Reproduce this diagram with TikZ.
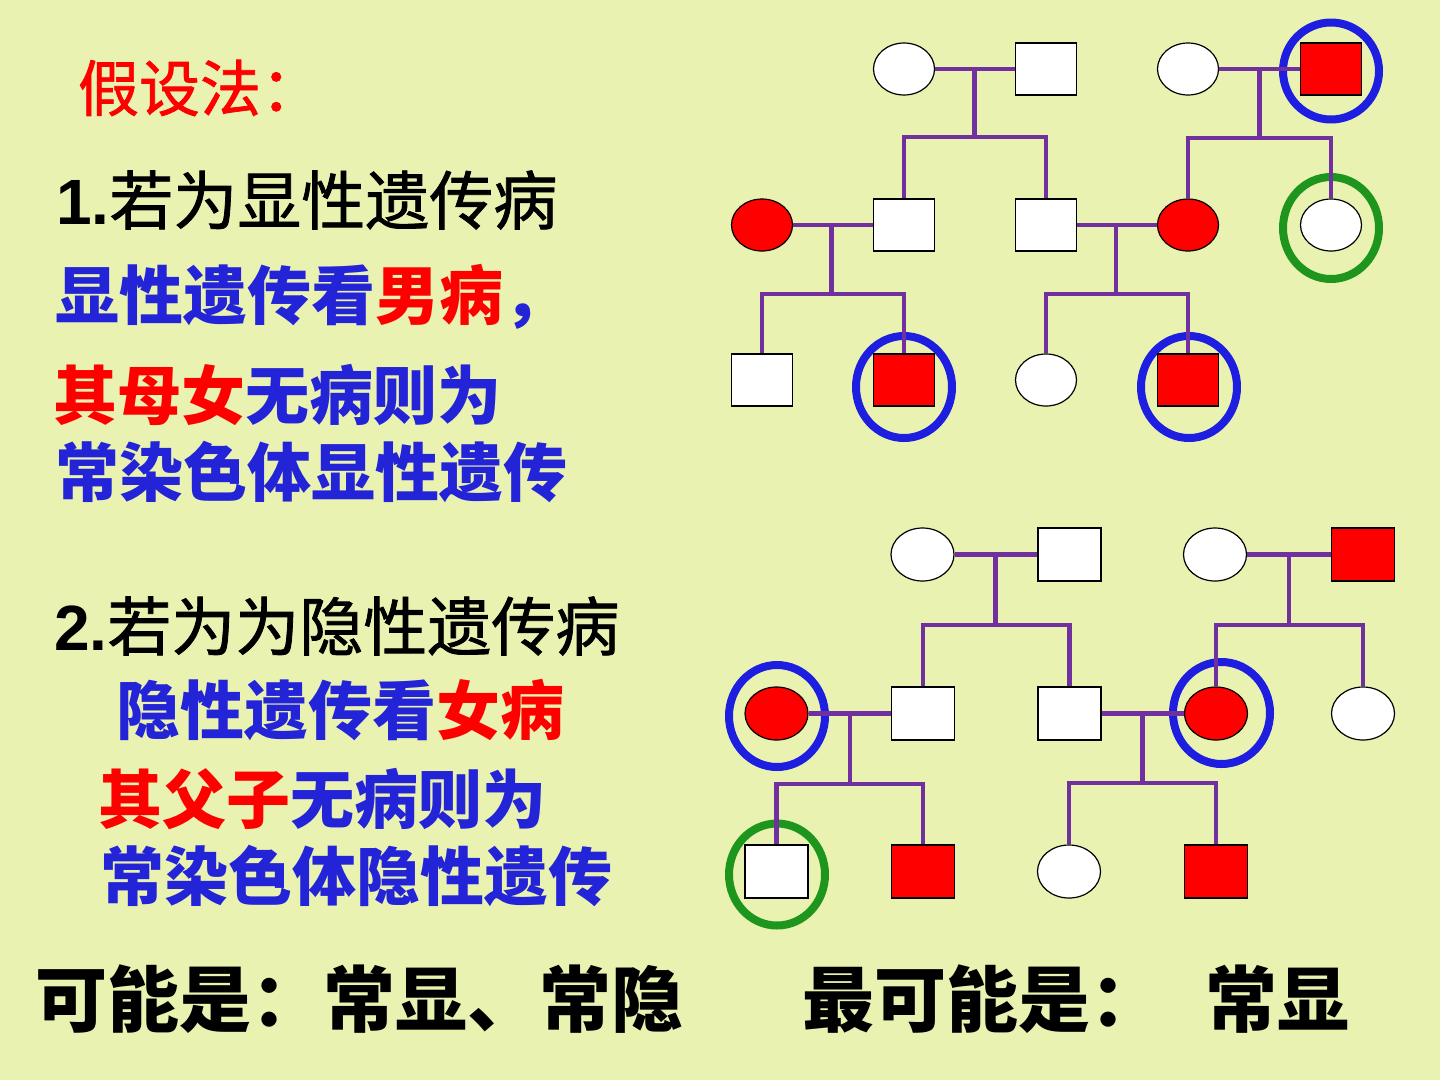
\documentclass[tikz,border=0pt]{standalone}
\usepackage{fontspec}
\newfontfamily\cjk{Noto Sans CJK SC}
\newfontfamily\cjkm[FakeBold=1.2]{Noto Sans CJK SC}
\newfontfamily\lat{Liberation Sans}
\usetikzlibrary{shapes.geometric}
\definecolor{bg}{RGB}{234,242,178}
\definecolor{pp}{RGB}{112,48,160}
\definecolor{rb}{RGB}{30,30,225}
\definecolor{tb}{RGB}{35,35,215}
\definecolor{rg}{RGB}{30,150,30}
\tikzset{
  pm/.style={rectangle, draw=black, line width=1.2pt, minimum width=61pt, minimum height=52pt, inner sep=0pt, fill=white},
  pf/.style={ellipse, draw=black, line width=1.2pt, minimum width=61pt, minimum height=52pt, inner sep=0pt, fill=white},
  aff/.style={fill=red},
  big/.style={minimum width=63pt, minimum height=53pt},
  ring/.style={ellipse, line width=8pt, minimum width=96pt, minimum height=102pt, inner sep=0pt},
  kin/.style={draw=pp, line width=4.8pt},
  txt/.style={anchor=west, inner sep=0pt, outer sep=0pt},
}
\begin{document}
\begin{tikzpicture}[x=1pt,y=-1pt]
\fill[bg] (0,0) rectangle (1440,1080);
\useasboundingbox (0,0) rectangle (1440,1080);

% ---------- texts ----------
\node[txt, text=red] (t0) at (78,88) {\cjkm\fontsize{61}{61}\selectfont 假设法：};
\node[txt] (t1) at (56,200) {\fontsize{64}{64}\selectfont{\lat\bfseries 1.}\cjkm 若为显性遗传病};
\node[txt, text=tb] (t2) at (55,297) {\cjk\bfseries\fontsize{64}{64}\selectfont 显性遗传看\textcolor{red}{男病}，};
\node[txt, text=tb] (t3) at (53,395) {\cjk\bfseries\fontsize{64}{64}\selectfont \textcolor{red}{其母女}无病则为};
\node[txt, text=tb] (t4) at (55,472) {\cjk\bfseries\fontsize{64}{64}\selectfont 常染色体显性遗传};
\node[txt] (t5) at (54,626) {\fontsize{64}{64}\selectfont{\lat\bfseries 2.}\cjkm 若为为隐性遗传病};
\node[txt, text=tb] (t6) at (116,710) {\cjk\bfseries\fontsize{64}{64}\selectfont 隐性遗传看\textcolor{red}{女病}};
\node[txt, text=tb] (t7) at (98,799) {\cjk\bfseries\fontsize{64}{64}\selectfont \textcolor{red}{其父子}无病则为};
\node[txt, text=tb] (t8) at (100,876) {\cjk\bfseries\fontsize{64}{64}\selectfont 常染色体隐性遗传};
\node[txt] (t9) at (35,999) {\cjk\bfseries\fontsize{72}{72}\selectfont 可能是：常显、常隐};
\node[txt] (t10) at (802,999) {\cjk\bfseries\fontsize{72}{72}\selectfont 最可能是：};
\node[txt] (t11) at (1205,999) {\cjk\bfseries\fontsize{72}{72}\selectfont 常显};

% ---------- top pedigree ----------
\node[ring, draw=rb, minimum height=97pt] (r1) at (1331,71) {};
\node[ring, draw=rg] (r2) at (1331,228) {};
\node[ring, draw=rb] (r3) at (904,387) {};
\node[ring, draw=rb] (r4) at (1189,387) {};

\node[pf] (a1) at (904,69) {};
\node[pm] (a2) at (1046,69) {};
\node[pf] (a3) at (1188,69) {};
\node[pm, aff] (a4) at (1331,69) {};

\node[pf, aff] (b1) at (762,225) {};
\node[pm] (b2) at (904,225) {};
\node[pm] (b3) at (1046,225) {};
\node[pf, aff] (b4) at (1188,225) {};
\node[pf] (b5) at (1331,225) {};

\node[pm] (c1) at (762,380) {};
\node[pm, aff] (c2) at (904,380) {};
\node[pf] (c3) at (1046,380) {};
\node[pm, aff] (c4) at (1188,380) {};

\coordinate (d1) at (974.5,69);  \coordinate (s1) at (974.5,137);
\coordinate (d2) at (1259.5,69); \coordinate (s2) at (1259.5,138);
\coordinate (d3) at (831.5,225); \coordinate (s3) at (831.5,294);
\coordinate (d4) at (1116,225);  \coordinate (s4) at (1116,294);

\draw[kin] (a1.east) -- (a2.west);
\draw[kin] (d1) -- (s1);
\draw[kin] (b2.north) |- (s1) -| (b3.north);
\draw[kin] (a3.east) -- (a4.west);
\draw[kin] (d2) -- (s2);
\draw[kin] (b4.north) |- (s2) -| (b5.north);
\draw[kin] (b1.east) -- (b2.west);
\draw[kin] (d3) -- (s3);
\draw[kin] (c1.north) |- (s3) -| (c2.north);
\draw[kin] (b3.east) -- (b4.west);
\draw[kin] (d4) -- (s4);
\draw[kin] (c3.north) |- (s4) -| (c4.north);

% ---------- bottom pedigree ----------
\node[ring, draw=rb] (r5) at (777,716) {};
\node[ring, draw=rb, minimum width=97pt] (r6) at (1221.5,713) {};
\node[ring, draw=rg] (r7) at (777,874.5) {};

\node[pf, big] (e1) at (922.5,554.5) {};
\node[pm, big] (e2) at (1069.5,554.5) {};
\node[pf, big] (e3) at (1215,554.5) {};
\node[pm, big, aff] (e4) at (1363,554.5) {};

\node[pf, big, aff] (f1) at (776.5,713.5) {};
\node[pm, big] (f2) at (923,713.5) {};
\node[pm, big] (f3) at (1069.5,713.5) {};
\node[pf, big, aff] (f4) at (1216,713.5) {};
\node[pf, big] (f5) at (1363,713.5) {};

\node[pm, big] (g1) at (776.5,871.5) {};
\node[pm, big, aff] (g2) at (923,871.5) {};
\node[pf, big] (g3) at (1069,871.5) {};
\node[pm, big, aff] (g4) at (1216,871.5) {};

\coordinate (d5) at (995.5,554.5); \coordinate (s5) at (995.5,625);
\coordinate (d6) at (1289,554.5);  \coordinate (s6) at (1289,625);
\coordinate (d7) at (850,712.5);   \coordinate (s7) at (850,784);
\coordinate (d8) at (1142.5,712.5);\coordinate (s8) at (1142.5,783);

\draw[kin] (e1.east) -- (e2.west);
\draw[kin] (d5) -- (s5);
\draw[kin] (f2.north) |- (s5) -| (f3.north);
\draw[kin] (e3.east) -- (e4.west);
\draw[kin] (d6) -- (s6);
\draw[kin] (f4.north) |- (s6) -| (f5.north);
\draw[kin] (f1.east) -- (f2.west);
\draw[kin] (d7) -- (s7);
\draw[kin] (g1.north) |- (s7) -| (g2.north);
\draw[kin] (f3.east) -- (f4.west);
\draw[kin] (d8) -- (s8);
\draw[kin] (g3.north) |- (s8) -| (g4.north);
\end{tikzpicture}
\end{document}
